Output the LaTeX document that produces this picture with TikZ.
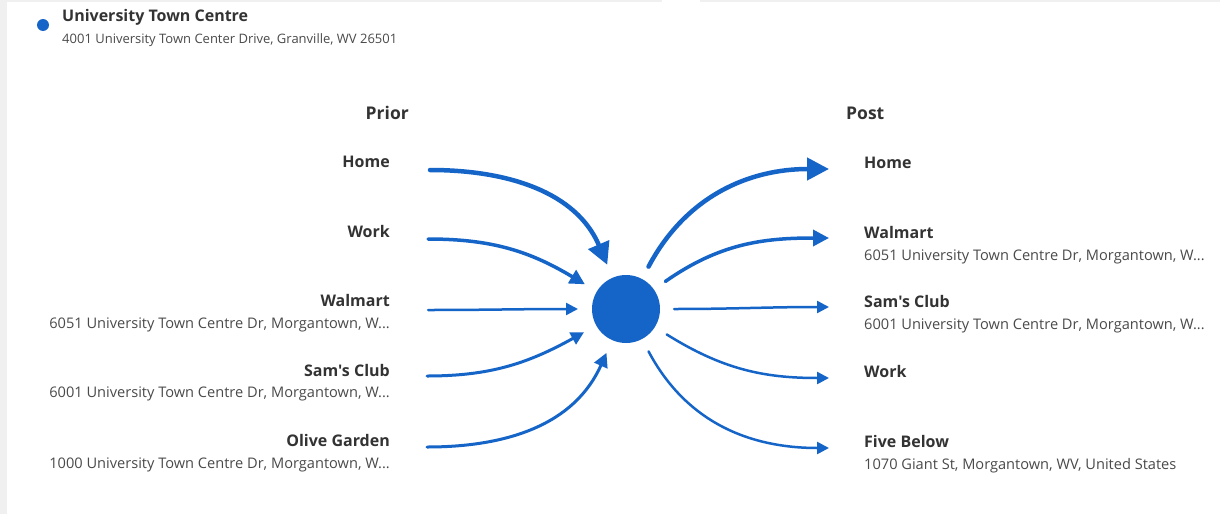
\documentclass[tikz,border=0pt]{standalone}
\usepackage{fontspec}
\setmainfont{Open Sans}[Ligatures=TeXOff]
\usepackage{xcolor}
\usepackage{tikz}
\usetikzlibrary{arrows.meta, positioning}
\definecolor{hubblue}{HTML}{1565C8}
\definecolor{namegray}{HTML}{333333}
\definecolor{addrgray}{HTML}{4A4A4A}
\definecolor{edgegray}{HTML}{F0F0F0}
\tikzstyle{flow}      = [hubblue, line cap=round]
\tikzstyle{hubdot}    = [circle, fill=hubblue, inner sep=0pt, minimum size=68pt, outer sep=14pt]
\tikzstyle{placename} = [inner sep=0pt, text=namegray, font=\bfseries\fontsize{16}{19}\selectfont]
\tikzstyle{placeaddr} = [inner sep=0pt, text=addrgray, font=\fontsize{14.6}{17}\selectfont]
\tikzstyle{coltitle}  = [inner sep=0pt, text=namegray, font=\bfseries\fontsize{17.5}{21}\selectfont]
\tikzset{every node/.style={align=center}}

\begin{document}
\begin{tikzpicture}[x=1pt, y=1pt]
  % Frame
  \useasboundingbox (0,0) rectangle (1220,-514);
  \fill[white] (0,0) rectangle (1220,-514);
  \fill[edgegray] (0,0) rectangle (7,-514);
  \fill[edgegray] (7,0) rectangle (662,-2);
  \fill[edgegray] (700,0) rectangle (1220,-2);

  % Venue header
  \fill[hubblue] (43,-25) circle (6);
  \node[placename, anchor=base west] (venue) at (62,-21) {University Town Centre};
  \node[placeaddr, anchor=base west, font=\fontsize{13}{15}\selectfont] (venueaddr) at (62,-43) {4001 University Town Center Drive, Granville, WV 26501};

  % Column titles
  \node[coltitle, anchor=base east] (prior) at (409,-119) {Prior};
  \node[coltitle, anchor=base west] (post) at (846,-119) {Post};

  % Prior places
  \node[placename, anchor=base east] (pHome)  at (390,-167) {Home};
  \node[placename, anchor=base east] (pWork)  at (390,-237) {Work};
  \node[placename, anchor=base east] (pWal)   at (390,-306) {Walmart};
  \node[placeaddr, anchor=base east] (pWalA)  at (390,-328) {6051 University Town Centre Dr, Morgantown, W...};
  \node[placename, anchor=base east] (pSam)   at (390,-376) {Sam's Club};
  \node[placeaddr, anchor=base east] (pSamA)  at (390,-397) {6001 University Town Centre Dr, Morgantown, W...};
  \node[placename, anchor=base east] (pOlive) at (390,-446) {Olive Garden};
  \node[placeaddr, anchor=base east] (pOliveA) at (390,-468) {1000 University Town Centre Dr, Morgantown, W...};

  % Post places
  \node[placename, anchor=base west] (qHome) at (864,-168) {Home};
  \node[placename, anchor=base west] (qWal)  at (864,-238) {Walmart};
  \node[placeaddr, anchor=base west] (qWalA) at (864,-260) {6051 University Town Centre Dr, Morgantown, W...};
  \node[placename, anchor=base west] (qSam)  at (864,-307) {Sam's Club};
  \node[placeaddr, anchor=base west] (qSamA) at (864,-329) {6001 University Town Centre Dr, Morgantown, W...};
  \node[placename, anchor=base west] (qWork) at (864,-377) {Work};
  \node[placename, anchor=base west] (qFive) at (864,-447) {Five Below};
  \node[placeaddr, anchor=base west] (qFiveA) at (864,-469) {1070 Giant St, Morgantown, WV, United States};

  % Hub
  \node[hubdot] (hub) at (626,-309) {};

  % Arrow ends
  \coordinate (inHome)  at (430,-170);
  \coordinate (inWork)  at (428,-239);
  \coordinate (inWal)   at (428,-310);
  \coordinate (inSam)   at (427,-376);
  \coordinate (inOlive) at (427,-447);
  \coordinate (outHome) at (829,-169);
  \coordinate (outWal)  at (829,-238);
  \coordinate (outSam)  at (829,-307);
  \coordinate (outWork) at (829,-378);
  \coordinate (outFive) at (829,-448);

  % Incoming flows
  \foreach \src/\ang/\lw/\tip in {inHome/113/4.5/22, inWork/149/3.5/15, inWal/180/2.5/12, inSam/209/3/13, inOlive/246/3/14}
      \draw[flow, line width=\lw pt, -{Triangle[length=\tip pt, width=\tip pt]}] (\src) to[out=0, in=\ang] (hub);

  % Outgoing flows
  \foreach \dst/\ang/\lw/\tip in {outHome/62/4.5/22, outWal/35/3.5/16, outSam/0/2.5/12, outWork/-32/2.5/12, outFive/-62/2.5/12}
      \draw[flow, line width=\lw pt, -{Triangle[length=\tip pt, width=\tip pt]}] (hub) to[out=\ang, in=180] (\dst);
\end{tikzpicture}
\end{document}
